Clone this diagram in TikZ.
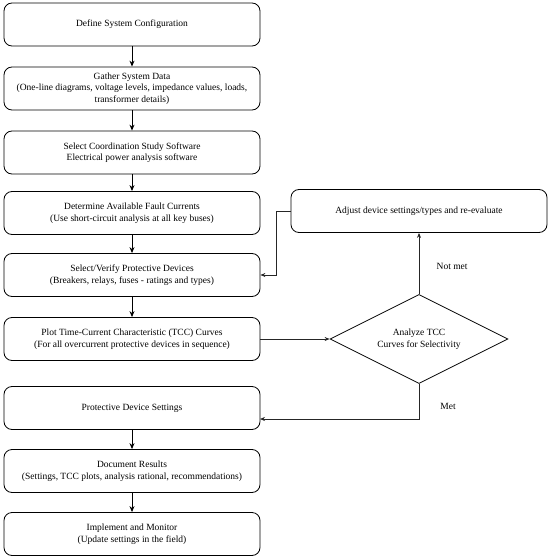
\documentclass[tikz,border=0pt]{standalone}
\usepackage{fontspec}
\setmainfont{Liberation Serif}
\newfontfamily\diagfont{Liberation Serif}
\usetikzlibrary{shapes.geometric,arrows.meta}
\begin{document}
\begin{tikzpicture}[x=1pt,y=-1pt,
  box/.style={draw, rounded corners=8pt, line width=0.8pt, minimum width=256pt, minimum height=43pt, align=center, inner sep=2pt, font=\diagfont\fontsize{9.5}{11.5}\selectfont},
  dec/.style={draw, diamond, aspect=2, line width=0.8pt, minimum width=178pt, minimum height=89pt, inner sep=0pt, align=center, font=\diagfont\fontsize{9.5}{11.5}\selectfont},
  flow/.style={line width=1pt, -{Stealth[length=6pt,width=5pt]}},
  side/.style={line width=0.7pt, draw=black!85, -{Stealth[length=5pt,width=4pt]}},
  lbl/.style={font=\diagfont\fontsize{9.5}{11.5}\selectfont}]
\useasboundingbox (0,0) rectangle (550,559);
\node[box] (b1) at (132,24.5) {Define System Configuration};
\node[box] (b2) at (132,88.5) {Gather System Data\\(One-line diagrams, voltage levels, impedance values, loads,\\transformer details)};
\node[box] (b3) at (132,152.5) {Select Coordination Study Software\\Electrical power analysis software};
\node[box] (b4) at (132,213) {Determine Available Fault Currents\\(Use short-circuit analysis at all key buses)};
\node[box] (b5) at (132,275) {Select/Verify Protective Devices\\(Breakers, relays, fuses - ratings and types)};
\node[box] (b6) at (132,339) {Plot Time-Current Characteristic (TCC) Curves\\(For all overcurrent protective devices in sequence)};
\node[box] (b7) at (132,408) {Protective Device Settings};
\node[box] (b8) at (132,471) {Document Results\\(Settings, TCC plots, analysis rational, recommendations)};
\node[box] (b9) at (132,534) {Implement and Monitor\\(Update settings in the field)};
\node[box] (adj) at (419,211) {Adjust device settings/types and re-evaluate};
\node[dec] (dia) at (419,339) {Analyze TCC\\Curves for Selectivity};
\draw[flow] (b1) -- (b2);
\draw[flow] (b2) -- (b3);
\draw[flow] (b3) -- (b4);
\draw[flow] (b4) -- (b5);
\draw[flow] (b5) -- (b6);
\draw[flow] (b7) -- (b8);
\draw[flow] (b8) -- (b9);
\draw[side] (b6.east) -- (dia.west);
\draw[side] (dia.north) -- (adj.south) node[lbl, pos=0.45, right=14pt] {Not met};
\coordinate (j1) at (276,211);
\coordinate (j2) at (276,275);
\draw[side] (adj.west) -- (j1) -- (j2) -- (b5.east);
\coordinate (m1) at (419,419);
\coordinate (m2) at (260,419);
\draw[side] (dia.south) -- (m1) -- (m2);
\node[lbl] (met) at (448,406) {Met};
\end{tikzpicture}
\end{document}
